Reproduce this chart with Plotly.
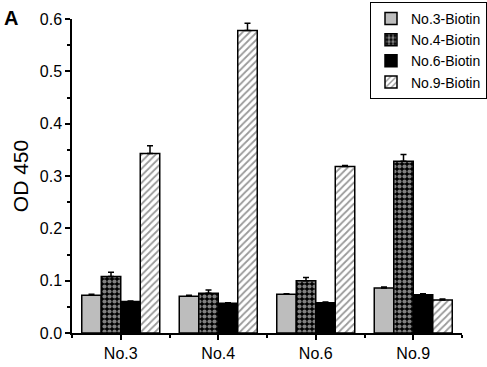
import plotly.graph_objects as go

categories = ["No.3", "No.4", "No.6", "No.9"]
series_names = ["No.3-Biotin", "No.4-Biotin", "No.6-Biotin", "No.9-Biotin"]
v_no3 = [0.072, 0.070, 0.074, 0.086]
v_no4 = [0.108, 0.076, 0.100, 0.328]
v_no6 = [0.060, 0.057, 0.058, 0.073]
v_no9 = [0.343, 0.578, 0.318, 0.063]
e_no3 = [0.002, 0.002, 0.001, 0.002]
e_no4 = [0.008, 0.006, 0.006, 0.013]
e_no6 = [0.001, 0.001, 0.001, 0.002]
e_no9 = [0.015, 0.014, 0.002, 0.002]

values = [v_no3, v_no4, v_no6, v_no9]
errors = [e_no3, e_no4, e_no6, e_no9]

styles = [
    dict(color="#bdbdbd"),
    dict(color="black", pattern=dict(shape=".", bgcolor="black", fgcolor="white", size=5, solidity=0.55, fillmode="overlay")),
    dict(color="black"),
    dict(color="white", pattern=dict(shape="/", bgcolor="white", fgcolor="#333333", size=5, solidity=0.35, fillmode="overlay")),
]

xpos = list(range(len(categories)))
fig = go.Figure()
for name, vals, errs, st in zip(series_names, values, errors, styles):
    marker = dict(line=dict(color="black", width=1.5))
    marker.update(st)
    fig.add_trace(go.Bar(
        x=xpos, y=vals, name=name, marker=marker,
        error_y=dict(type="data", array=errs, arrayminus=[0]*len(errs),
                     color="black", thickness=1.5, width=3),
    ))

fig.update_layout(
    width=487, height=367,
    margin=dict(l=72, r=25, t=19, b=34, autoexpand=False),
    barmode="group", bargap=0.2, bargroupgap=0,
    plot_bgcolor="white", paper_bgcolor="white",
    font=dict(family="Liberation Sans, Arial, sans-serif", color="black", size=16),
    legend=dict(xref="container", yref="container", x=1.0, y=0.995,
                xanchor="right", yanchor="top",
                bordercolor="black", borderwidth=1, bgcolor="white",
                font=dict(size=14), tracegroupgap=0, itemwidth=30),
    showlegend=True,
)
fig.update_xaxes(
    range=[-0.5, 3.5], tickvals=xpos, ticktext=categories,
    showline=True, linecolor="black", linewidth=1.5,
    ticks="outside", ticklen=5, tickwidth=1.5, tickcolor="black",
    minor=dict(tickvals=[-0.5, 0.5, 1.5, 2.5, 3.5], ticks="outside", ticklen=3, tickwidth=1.5, tickcolor="black"),
    showgrid=False, zeroline=False, tickfont=dict(size=16),
)
fig.update_yaxes(
    range=[0, 0.6], dtick=0.1, tickformat=".1f",
    showline=True, linecolor="black", linewidth=1.5,
    ticks="outside", ticklen=5, tickwidth=1.5, tickcolor="black",
    minor=dict(dtick=0.05, ticks="outside", ticklen=3, tickwidth=1.5, tickcolor="black"),
    showgrid=False, zeroline=False, tickfont=dict(size=16),
    title=dict(text="OD 450", font=dict(size=21), standoff=5),
)
fig.add_annotation(text="<b>A</b>", xref="paper", yref="paper", x=-0.18, y=1.045,
                   xanchor="left", yanchor="top", showarrow=False, font=dict(size=20))

fig.write_html("out.html", config={"displayModeBar": False},
               post_script="document.body.style.margin='0px';")
